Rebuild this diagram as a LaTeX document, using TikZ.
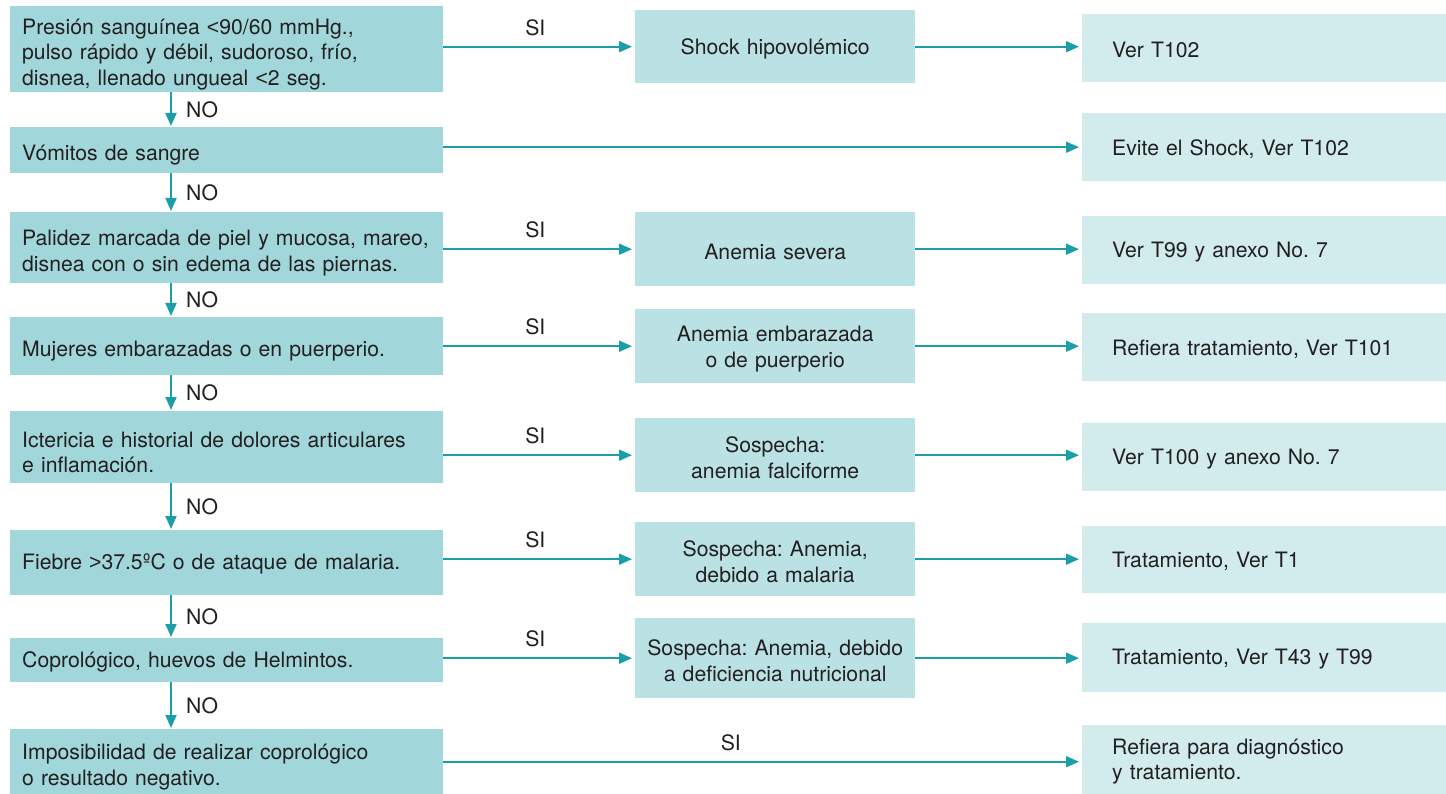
\documentclass[tikz,border=0pt]{standalone}
\usepackage{fontspec}
\setmainfont{TeX Gyre Heros}
\newfontfamily\lsans{Liberation Sans}
\usetikzlibrary{arrows.meta}
\definecolor{cL}{HTML}{A1D7DB}
\definecolor{cM}{HTML}{BAE1E4}
\definecolor{cR}{HTML}{D2EBED}
\definecolor{cA}{HTML}{1B9EA8}
\definecolor{cT}{HTML}{231F20}
\frenchspacing
\newcommand{\lessth}{{\lsans <}}
\newcommand{\greatth}{{\lsans >}}
\begin{document}
\begin{tikzpicture}[x=1pt,y=-1pt,
  every node/.style={text=cT,font=\frenchspacing\fontsize{21.2}{25.5}\selectfont},
  lbase/.style={anchor=north west,fill=cL,minimum width=433,text width=409,inner xsep=12,inner ysep=0,align=left},
  lbox/.style={lbase,execute at begin node={\rule{0pt}{26pt}}},
  lboxs/.style={lbase,execute at begin node={\rule{0pt}{19pt}}},
  mbox/.style={anchor=north west,fill=cM,minimum width=280,text width=264,inner xsep=8,inner ysep=0,align=center,execute at begin node={\rule{0pt}{21pt}}},
  rbox/.style={anchor=north west,fill=cR,minimum width=364,text width=304,inner xsep=30,inner ysep=0,align=left,execute at begin node={\rule{0pt}{19pt}}},
  arr/.style={draw=cA,line width=1.8,-{Triangle[length=13,width=11]},shorten >=3},
  lab/.style={inner sep=10}
]
\useasboundingbox (0,0) rectangle (1446,794);
% left column
\node[lbox,minimum height=86] (L1) at (10,6) {Presión sanguínea \lessth90/60 mmHg.,\\pulso rápido y débil, sudoroso, frío,\\disnea, llenado ungueal \lessth2 seg.};
\node[lbox,minimum height=46] (L2) at (10,127) {Vómitos de sangre};
\node[lbox,minimum height=71] (L3) at (10,212) {Palidez marcada de piel y mucosa, mareo,\\disnea con o sin edema de las piernas.};
\node[lbox,minimum height=58] (L4) at (10,317) {Mujeres embarazadas o en puerperio.};
\node[lbox,minimum height=72] (L5) at (10,411) {Ictericia e historial de dolores articulares\\e inflamación.};
\node[lboxs,minimum height=65] (L6) at (10,530) {Fiebre \greatth37.5ºC o de ataque de malaria.};
\node[lboxs,minimum height=44] (L7) at (10,638) {Coprológico, huevos de Helmintos.};
\node[lbox,minimum height=65] (L8) at (10,729) {Imposibilidad de realizar coprológico\\o resultado negativo.};
% middle column
\node[mbox,minimum height=73] (M1) at (635,10) {Shock hipovolémico};
\node[mbox,minimum height=74] (M3) at (635,212) {Anemia severa};
\node[mbox,minimum height=74] (M4) at (635,309) {Anemia embarazada\\o de puerperio};
\node[mbox,minimum height=74] (M5) at (635,418) {Sospecha:\\anemia falciforme};
\node[mbox,minimum height=74] (M6) at (635,522) {Sospecha: Anemia,\\debido a malaria};
\node[mbox,minimum height=80] (M7) at (635,618) {Sospecha: Anemia, debido\\a deficiencia nutricional};
% right column
\node[rbox,minimum height=68] (R1) at (1082,14) {Ver T102};
\node[rbox,minimum height=68] (R2) at (1082,113) {Evite el Shock, Ver T102};
\node[rbox,minimum height=68] (R3) at (1082,216) {Ver T99 y anexo No. 7};
\node[rbox,minimum height=68] (R4) at (1082,313) {Refiera tratamiento, Ver T101};
\node[rbox,minimum height=68] (R5) at (1082,423) {Ver T100 y anexo No. 7};
\node[rbox,minimum height=67] (R6) at (1082,526) {Tratamiento, Ver T1};
\node[rbox,minimum height=69] (R7) at (1082,623) {Tratamiento, Ver T43 y T99};
\node[rbox,minimum height=69] (R8) at (1082,725) {Refiera para diagnóstico\\y tratamiento.};
% horizontal connectors
\foreach \l/\m/\r in {L1/M1/R1,L3/M3/R3,L4/M4/R4,L5/M5/R5,L6/M6/R6,L7/M7/R7}{
  \draw[arr] (\l.east |- \m.west) -- node[lab,above,pos=0.48]{SI} (\m.west);
  \draw[arr] (\m.east) -- (\m.east -| \r.west);
}
\draw[arr] ([yshift=3]L2.east) -- ([yshift=3]L2.east -| R2.west);
\draw[arr] (L8.east) -- node[lab,above,pos=0.45]{SI} (L8.east -| R8.west);
% vertical connectors
\coordinate (nx) at (171,0);
\foreach \a/\b in {L1/L2,L2/L3,L3/L4,L4/L5,L5/L6,L6/L7,L7/L8}{
  \draw[arr,shorten >=1] (\a.south -| nx) -- node[right,xshift=11]{NO} (\b.north -| nx);
}
\end{tikzpicture}
\end{document}
